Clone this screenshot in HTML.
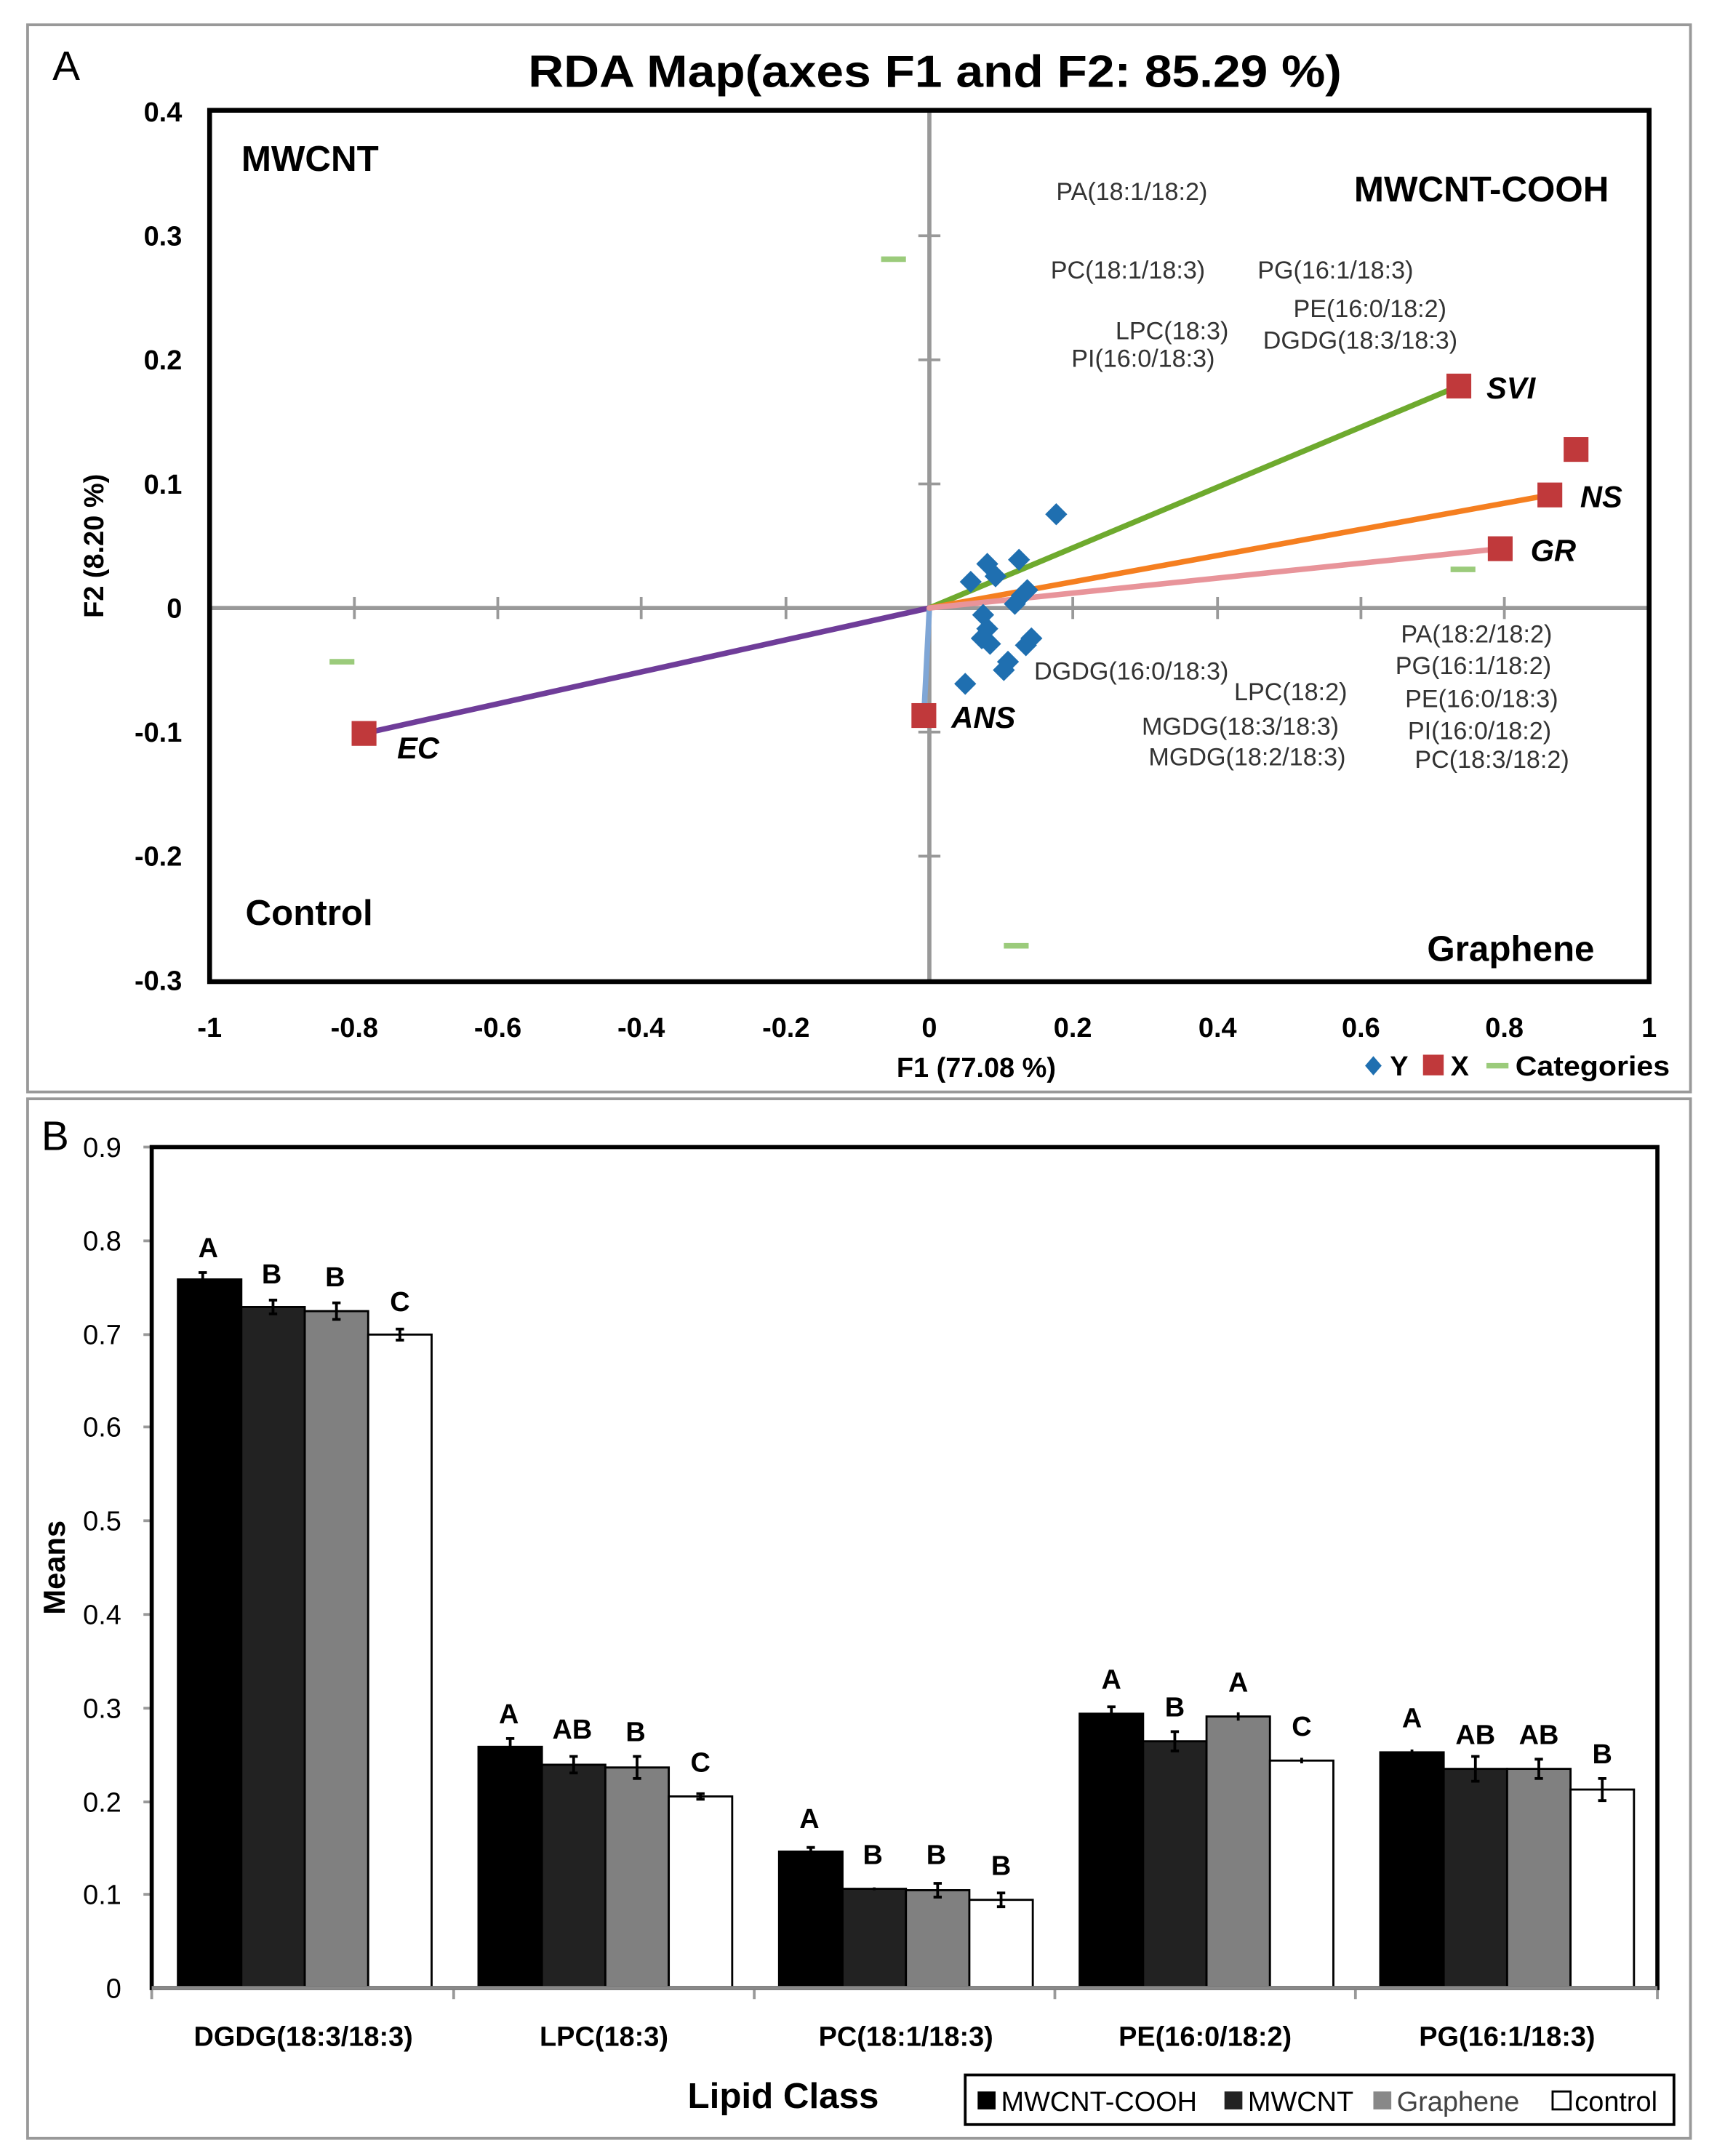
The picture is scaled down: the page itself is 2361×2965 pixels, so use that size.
<!DOCTYPE html>
<html><head><meta charset="utf-8"><style>
html,body{margin:0;padding:0;background:#fff}
svg{display:block}
text{font-family:"Liberation Sans",sans-serif}
.b{font-weight:bold}
.s{font-size:18px;fill:#333}
</style></head><body>
<svg width="2361" height="2965" viewBox="0 0 1245.2 1563.8" xmlns="http://www.w3.org/2000/svg">
<rect x="0" y="0" width="1245.2" height="1563.8" fill="#fff"/>
<rect x="20" y="18" width="1206" height="774" fill="none" stroke="#999" stroke-width="2"/>
<rect x="20" y="797" width="1206" height="754" fill="none" stroke="#999" stroke-width="2"/>
<text x="38" y="58" font-size="30">A</text>
<text x="678" y="63" font-size="33" class="b" text-anchor="middle" textLength="590" lengthAdjust="spacingAndGlyphs">RDA Map(axes F1 and F2: 85.29 %)</text>
<!-- axes -->
<line x1="674" y1="80" x2="674" y2="712" stroke="#999" stroke-width="3"/>
<line x1="152" y1="441" x2="1196" y2="441" stroke="#999" stroke-width="3"/>
<g stroke="#999" stroke-width="2">
<line x1="257" y1="433" x2="257" y2="449"/><line x1="361" y1="433" x2="361" y2="449"/><line x1="465" y1="433" x2="465" y2="449"/><line x1="570" y1="433" x2="570" y2="449"/><line x1="778" y1="433" x2="778" y2="449"/><line x1="883" y1="433" x2="883" y2="449"/><line x1="987" y1="433" x2="987" y2="449"/><line x1="1091" y1="433" x2="1091" y2="449"/>
<line x1="666" y1="171" x2="682" y2="171"/><line x1="666" y1="261" x2="682" y2="261"/><line x1="666" y1="351" x2="682" y2="351"/><line x1="666" y1="531" x2="682" y2="531"/><line x1="666" y1="621" x2="682" y2="621"/>
</g>
<rect x="152" y="80" width="1044" height="632" fill="none" stroke="#000" stroke-width="3.5"/>
<g font-size="20" class="b" text-anchor="end">
<text x="132" y="88">0.4</text><text x="132" y="178">0.3</text><text x="132" y="268">0.2</text><text x="132" y="358">0.1</text><text x="132" y="448">0</text><text x="132" y="538">-0.1</text><text x="132" y="628">-0.2</text><text x="132" y="718">-0.3</text>
</g>
<g font-size="20" class="b" text-anchor="middle">
<text x="152" y="752">-1</text><text x="257" y="752">-0.8</text><text x="361" y="752">-0.6</text><text x="465" y="752">-0.4</text><text x="570" y="752">-0.2</text><text x="674" y="752">0</text><text x="778" y="752">0.2</text><text x="883" y="752">0.4</text><text x="987" y="752">0.6</text><text x="1091" y="752">0.8</text><text x="1196" y="752">1</text>
<text x="708" y="781">F1 (77.08 %)</text>
</g>
<text transform="translate(75,396) rotate(-90)" font-size="20" class="b" text-anchor="middle">F2 (8.20 %)</text>
<!-- legend A -->
<path d="M996 766 l6 7 -6 7 -6 -7z" fill="#1f6fb0"/>
<text x="1008" y="780" font-size="20" class="b">Y</text>
<rect x="1032" y="765" width="15" height="15" fill="#c0393b"/>
<text x="1052" y="780" font-size="20" class="b">X</text>
<line x1="1078" y1="773" x2="1094" y2="773" stroke="#9bcb7b" stroke-width="4"/>
<text x="1099" y="780" font-size="20" class="b" textLength="112" lengthAdjust="spacingAndGlyphs">Categories</text>
<!-- corner labels -->
<g font-size="26" class="b">
<text x="175" y="124">MWCNT</text><text x="982" y="146">MWCNT-COOH</text><text x="178" y="671">Control</text><text x="1035" y="697">Graphene</text>
</g>
<!-- lines -->
<g stroke-width="4" stroke-linecap="round">
<line x1="674" y1="441" x2="264" y2="532" stroke="#6f3d99"/>
<line x1="674" y1="441" x2="670" y2="519" stroke="#7fa6d6"/>
<line x1="674" y1="441" x2="1058" y2="280" stroke="#6eaa2e"/>
<line x1="674" y1="441" x2="1124" y2="359" stroke="#f57f20"/>
<line x1="674" y1="441" x2="1088" y2="398" stroke="#e8949a"/>
</g>
<g stroke="#9bcb7b" stroke-width="4">
<line x1="639" y1="188" x2="657" y2="188"/><line x1="239" y1="480" x2="257" y2="480"/><line x1="1052" y1="413" x2="1070" y2="413"/><line x1="728" y1="686" x2="746" y2="686"/>
</g>
<g fill="#1f6fb0">
<path d="M766 365 l8 8 -8 8 -8 -8z"/><path d="M716 401 l8 8 -8 8 -8 -8z"/><path d="M722 410 l8 8 -8 8 -8 -8z"/><path d="M704 414 l8 8 -8 8 -8 -8z"/><path d="M739 398 l8 8 -8 8 -8 -8z"/><path d="M741 424 l8 8 -8 8 -8 -8z"/><path d="M745 420 l8 8 -8 8 -8 -8z"/><path d="M736 430 l8 8 -8 8 -8 -8z"/><path d="M713 438 l8 8 -8 8 -8 -8z"/><path d="M716 448 l8 8 -8 8 -8 -8z"/><path d="M712 455 l8 8 -8 8 -8 -8z"/><path d="M718 459 l8 8 -8 8 -8 -8z"/><path d="M744 460 l8 8 -8 8 -8 -8z"/><path d="M748 455 l8 8 -8 8 -8 -8z"/><path d="M731 472 l8 8 -8 8 -8 -8z"/><path d="M728 478 l8 8 -8 8 -8 -8z"/><path d="M700 488 l8 8 -8 8 -8 -8z"/>
</g>
<g fill="#c0393b">
<rect x="255" y="523" width="18" height="18"/><rect x="661" y="510" width="18" height="18"/><rect x="1049" y="271" width="18" height="18"/><rect x="1115" y="350" width="18" height="18"/><rect x="1079" y="389" width="18" height="18"/><rect x="1134" y="317" width="18" height="18"/>
</g>
<g font-size="22" class="b" font-style="italic">
<text x="288" y="550">EC</text><text x="690" y="528">ANS</text><text x="1078" y="289">SVI</text><text x="1146" y="368">NS</text><text x="1110" y="407">GR</text>
</g>
<g class="s">
<text x="766" y="145">PA(18:1/18:2)</text><text x="762" y="202">PC(18:1/18:3)</text><text x="912" y="202">PG(16:1/18:3)</text><text x="938" y="230">PE(16:0/18:2)</text><text x="809" y="246">LPC(18:3)</text><text x="916" y="253">DGDG(18:3/18:3)</text><text x="777" y="266">PI(16:0/18:3)</text>
<text x="1016" y="466">PA(18:2/18:2)</text><text x="1012" y="489">PG(16:1/18:2)</text><text x="1019" y="513">PE(16:0/18:3)</text><text x="1021" y="536">PI(16:0/18:2)</text><text x="1026" y="557">PC(18:3/18:2)</text>
<text x="750" y="493">DGDG(16:0/18:3)</text><text x="895" y="508">LPC(18:2)</text><text x="828" y="533">MGDG(18:3/18:3)</text><text x="833" y="555">MGDG(18:2/18:3)</text>
</g>
<!-- Panel B -->
<text x="30" y="834" font-size="30">B</text>
<g font-size="20" text-anchor="end">
<text x="88" y="839">0.9</text><text x="88" y="907">0.8</text><text x="88" y="975">0.7</text><text x="88" y="1042">0.6</text><text x="88" y="1110">0.5</text><text x="88" y="1178">0.4</text><text x="88" y="1246">0.3</text><text x="88" y="1314">0.2</text><text x="88" y="1381">0.1</text><text x="88" y="1449">0</text>
</g>
<g stroke="#999" stroke-width="2">
<line x1="104" y1="832" x2="110" y2="832"/><line x1="104" y1="900" x2="110" y2="900"/><line x1="104" y1="968" x2="110" y2="968"/><line x1="104" y1="1035" x2="110" y2="1035"/><line x1="104" y1="1103" x2="110" y2="1103"/><line x1="104" y1="1171" x2="110" y2="1171"/><line x1="104" y1="1239" x2="110" y2="1239"/><line x1="104" y1="1307" x2="110" y2="1307"/><line x1="104" y1="1374" x2="110" y2="1374"/>
<line x1="329" y1="1442" x2="329" y2="1450"/><line x1="547" y1="1442" x2="547" y2="1450"/><line x1="765" y1="1442" x2="765" y2="1450"/><line x1="983" y1="1442" x2="983" y2="1450"/><line x1="1202" y1="1442" x2="1202" y2="1450"/><line x1="110" y1="1442" x2="110" y2="1450"/>
</g>
<!-- bars: group start g, y0 1442, 677.8/unit -->
<g stroke="#000" stroke-width="1.5">
<rect x="129" y="928" width="46" height="514" fill="#000"/><rect x="175" y="948" width="46" height="494" fill="#222"/><rect x="221" y="951" width="46" height="491" fill="#808080"/><rect x="267" y="968" width="46" height="474" fill="#fff"/>
<rect x="347" y="1267" width="46" height="175" fill="#000"/><rect x="393" y="1280" width="46" height="162" fill="#222"/><rect x="439" y="1282" width="46" height="160" fill="#808080"/><rect x="485" y="1303" width="46" height="139" fill="#fff"/>
<rect x="565" y="1343" width="46" height="99" fill="#000"/><rect x="611" y="1370" width="46" height="72" fill="#222"/><rect x="657" y="1371" width="46" height="71" fill="#808080"/><rect x="703" y="1378" width="46" height="64" fill="#fff"/>
<rect x="783" y="1243" width="46" height="199" fill="#000"/><rect x="829" y="1263" width="46" height="179" fill="#222"/><rect x="875" y="1245" width="46" height="197" fill="#808080"/><rect x="921" y="1277" width="46" height="165" fill="#fff"/>
<rect x="1001" y="1271" width="46" height="171" fill="#000"/><rect x="1047" y="1283" width="46" height="159" fill="#222"/><rect x="1093" y="1283" width="46" height="159" fill="#808080"/><rect x="1139" y="1298" width="46" height="144" fill="#fff"/>
</g>
<g stroke="#000" stroke-width="2">
<path d="M147 923v10M144 923h6M144 933h6 M198 943v10M195 943h6M195 953h6 M244 945v12M241 945h6M241 957h6 M290 964v8M287 964h6M287 972h6"/>
<path d="M370 1261v12M367 1261h6M367 1273h6 M416 1274v12M413 1274h6M413 1286h6 M462 1274v16M459 1274h6M459 1290h6 M508 1301v4M505 1301h6M505 1305h6"/>
<path d="M588 1340v6M585 1340h6M585 1346h6 M634 1369v2 M680 1366v10M677 1366h6M677 1376h6 M726 1373v10M723 1373h6M723 1383h6"/>
<path d="M806 1238v10M803 1238h6M803 1248h6 M852 1256v14M849 1256h6M849 1270h6 M898 1242v6 M944 1275v4"/>
<path d="M1024 1269v4 M1070 1274v18M1067 1274h6M1067 1292h6 M1116 1276v14M1113 1276h6M1113 1290h6 M1162 1290v16M1159 1290h6M1159 1306h6"/>
</g>
<rect x="110" y="832" width="1092" height="610" fill="none" stroke="#000" stroke-width="3"/>
<line x1="110" y1="1442" x2="1202" y2="1442" stroke="#888" stroke-width="3"/>
<g font-size="20" class="b" text-anchor="middle">
<text x="151" y="912">A</text><text x="197" y="931">B</text><text x="243" y="933">B</text><text x="290" y="951">C</text>
<text x="369" y="1250">A</text><text x="415" y="1261">AB</text><text x="461" y="1263">B</text><text x="508" y="1285">C</text>
<text x="587" y="1326">A</text><text x="633" y="1352">B</text><text x="679" y="1352">B</text><text x="726" y="1360">B</text>
<text x="806" y="1225">A</text><text x="852" y="1245">B</text><text x="898" y="1227">A</text><text x="944" y="1259">C</text>
<text x="1024" y="1253">A</text><text x="1070" y="1265">AB</text><text x="1116" y="1265">AB</text><text x="1162" y="1279">B</text>
</g>
<g font-size="20" class="b" text-anchor="middle">
<text x="220" y="1484">DGDG(18:3/18:3)</text><text x="438" y="1484">LPC(18:3)</text><text x="657" y="1484">PC(18:1/18:3)</text><text x="874" y="1484">PE(16:0/18:2)</text><text x="1093" y="1484">PG(16:1/18:3)</text>
</g>
<text x="568" y="1529" font-size="26" class="b" text-anchor="middle">Lipid Class</text>
<text transform="translate(47,1137) rotate(-90)" font-size="22" class="b" text-anchor="middle">Means</text>
<rect x="700" y="1505" width="514" height="36" fill="#fff" stroke="#000" stroke-width="2"/>
<rect x="709" y="1517" width="13" height="13" fill="#000"/>
<text x="726" y="1531" font-size="20">MWCNT-COOH</text>
<rect x="888" y="1517" width="13" height="13" fill="#222"/>
<text x="905" y="1531" font-size="20">MWCNT</text>
<rect x="996" y="1517" width="13" height="13" fill="#888"/>
<text x="1013" y="1531" font-size="20" fill="#444">Graphene</text>
<rect x="1126" y="1517" width="13" height="13" fill="#fff" stroke="#000" stroke-width="1.5"/>
<text x="1142" y="1531" font-size="20">control</text>
</svg>
</body></html>
